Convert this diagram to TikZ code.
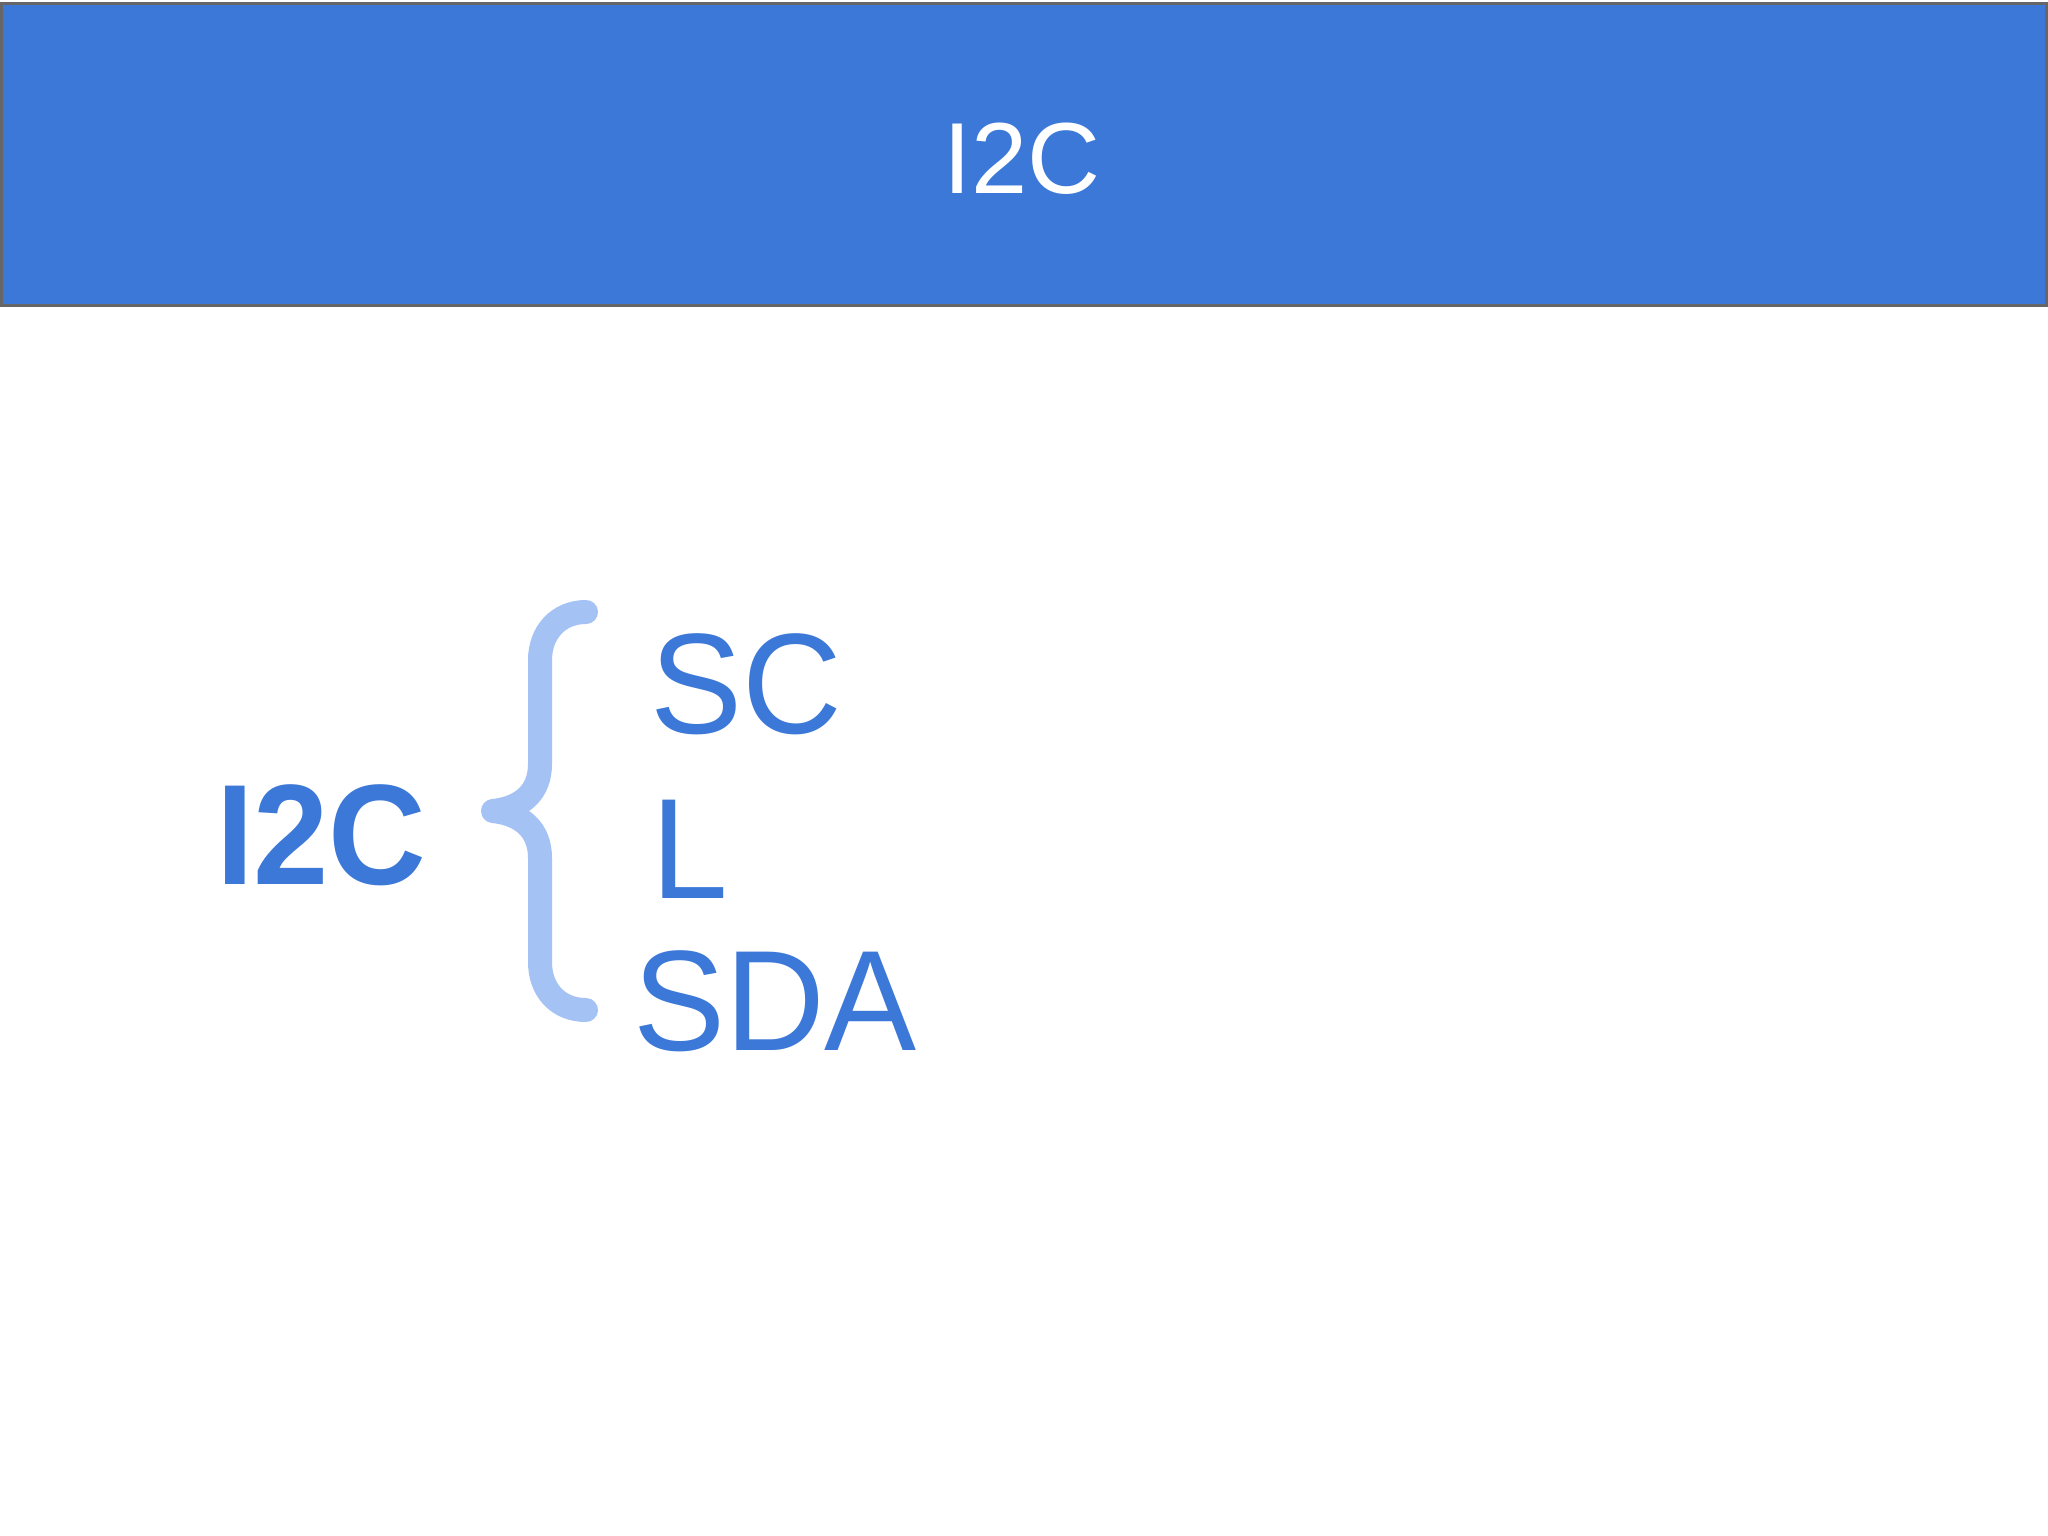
\documentclass[tikz,border=0pt]{standalone}
\usepackage{fontspec}
\usepackage{graphicx}
\setmainfont{Liberation Sans}
\definecolor{hdrblue}{HTML}{3C78D8}
\definecolor{hdrgray}{HTML}{666666}
\definecolor{bracecol}{HTML}{A4C2F4}
\newcommand{\narrowreg}[1]{\scalebox{0.965}[1]{#1}}
\newcommand{\narrowbold}[1]{\scalebox{0.946}[1]{#1}}
\begin{document}
\begin{tikzpicture}[x=1pt,y=-1pt,
  bigtxt/.style={inner sep=0pt, outer sep=0pt, text=hdrblue, font=\fontsize{143}{165}\selectfont},
  titletxt/.style={inner sep=0pt, text=white, font=\fontsize{101}{120}\selectfont},
  bracestyle/.style={draw=bracecol, line width=24pt, line cap=round, line join=round}]
\useasboundingbox (0,0) rectangle (2048,1536);
\fill[white] (0,0) rectangle (2048,1536);
% header bar
\draw[fill=hdrblue, draw=hdrgray, line width=3.5pt] (1.5,3.5) rectangle (2046.5,305.5);
\node[titletxt, anchor=base] (title) at (1022,193.5) {I2C};
% left label
\node[bigtxt, anchor=base west, font=\fontsize{143}{165}\selectfont\bfseries] (i2c) at (216,884) {\narrowbold{I2C}};
% right labels
\node[bigtxt, anchor=base west] (sc) at (650,733) {\narrowreg{SC}};
\node[bigtxt, anchor=base west] (l) at (651,898) {\narrowreg{L}};
\node[bigtxt, anchor=base west] (sda) at (633,1050) {\narrowreg{SDA}};
% brace
\coordinate (btop) at (586,612);
\coordinate (btip) at (493,811);
\coordinate (bbot) at (586,1010);
\draw[bracestyle] (btop) .. controls (558,612) and (540,633) .. (540,660)
  -- (540,764) .. controls (540,792) and (522,808) .. (btip)
  .. controls (522,814) and (540,830) .. (540,858)
  -- (540,962) .. controls (540,990) and (558,1010) .. (bbot);
\end{tikzpicture}
\end{document}
